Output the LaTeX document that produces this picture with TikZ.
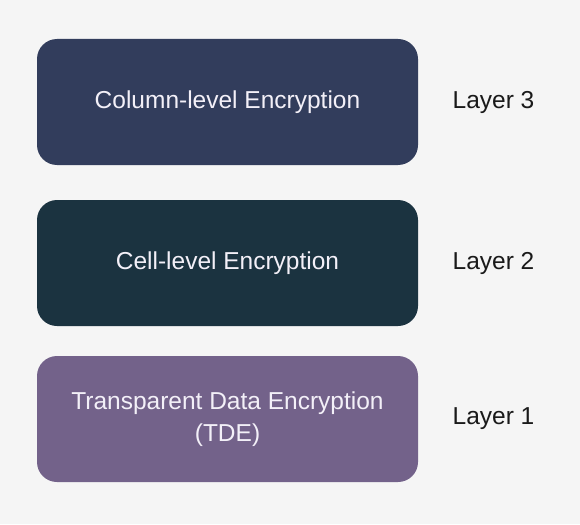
\documentclass[tikz,border=0pt]{standalone}
\usepackage{fontspec}
\setmainfont{Liberation Sans}
\definecolor{bgcol}{HTML}{F5F5F5}
\definecolor{colcol}{HTML}{323D5C}
\definecolor{cellcol}{HTML}{1B3340}
\definecolor{tdecol}{HTML}{73628A}
\definecolor{boxtext}{HTML}{F3F0F8}
\definecolor{labtext}{HTML}{1A1A1A}
\tikzset{
	layerbox/.style={rounded corners=20pt,minimum width=381pt,minimum height=126pt,inner sep=0pt,text=boxtext,align=center,font=\fontsize{24.5}{32}\selectfont},
	layerlab/.style={text=labtext,font=\fontsize{24.5}{28}\selectfont}
}
\begin{document}
\begin{tikzpicture}[x=1pt,y=-1pt]
	\fill[bgcol] (0,0) rectangle (580,524);
	\useasboundingbox (0,0) rectangle (580,524);
	
	\node[layerbox,fill=colcol] (col) at (227.5,102) {Column-level Encryption};
	\node[layerbox,fill=cellcol] (cell) at (227.5,263) {Cell-level Encryption};
	\node[layerbox,fill=tdecol] (tde) at (227.5,419) {Transparent Data Encryption\\(TDE)};
	
	\node[layerlab] (lay3) at (493.5,102) {Layer 3};
	\node[layerlab] (lay2) at (493.5,263) {Layer 2};
	\node[layerlab] (lay1) at (493.5,419) {Layer 1};
\end{tikzpicture}
\end{document}
